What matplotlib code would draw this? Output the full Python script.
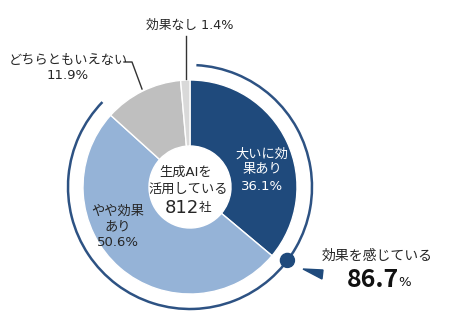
import matplotlib.pyplot as plt
from matplotlib.patches import Arc, Circle, Polygon
import numpy as np

plt.rcParams['font.family'] = ['DejaVu Sans', 'Noto Sans CJK JP']

# data
labels = ['大いに効\n果あり', 'やや効果\nあり', 'どちらともいえない', '効果なし']
values = [36.1, 50.6, 11.9, 1.4]
colors = ['#1f4a7c', '#95b3d7', '#bfbfbf', '#d9d9d9']
total_companies = 812
felt_effect = 86.7

W, H = 449, 332
fig = plt.figure(figsize=(W / 100, H / 100), dpi=100)
ax = fig.add_axes([0, 0, 1, 1])

cx, cy = 190, H - 187   # pie centre (pixel coords, y flipped)
r_out, r_in, r_ring = 107, 41, 122

ax.pie(values, colors=colors, startangle=90, counterclock=False,
       center=(cx, cy), radius=r_out,
       wedgeprops=dict(width=r_out - r_in, edgecolor='white', linewidth=1))

# outer ring over the "effective" share
end_ang = 90 - felt_effect / 100 * 360
ax.add_patch(Arc((cx, cy), 2 * r_ring, 2 * r_ring, theta1=end_ang + 360 - 2,
                 theta2=87, color='#2d5283', lw=1.8))
a = np.deg2rad(-37)
ax.add_patch(Circle((cx + r_ring * np.cos(a), cy + r_ring * np.sin(a)), 7,
                    color='#1f4a7c', zorder=5))
ax.add_patch(Polygon([(303, H - 269), (323, H - 270), (322, H - 279)],
                     color='#1f4a7c', zorder=5))

txt = '#262626'
# centre
ax.text(186, H - 172, '生成AIを', ha='center', va='center', fontsize=9.5, color=txt)
ax.text(188, H - 189, '活用している', ha='center', va='center', fontsize=9.5, color=txt)
ax.text(182, H - 208, str(total_companies), ha='center', va='center', fontsize=13, color=txt)
ax.text(205, H - 207, '社', ha='center', va='center', fontsize=9, color=txt)

# inner slice labels
ax.text(262, H - 170, f'{labels[0]}\n{values[0]}%', ha='center', va='center',
        fontsize=9.5, color='white', linespacing=1.3)
ax.text(118, H - 227, f'{labels[1]}\n{values[1]}%', ha='center', va='center',
        fontsize=9.5, color=txt, linespacing=1.3)

# outside labels
ax.text(68, H - 68, f'{labels[2]}\n{values[2]}%', ha='center', va='center',
        fontsize=9.5, color=txt, linespacing=1.2)
ax.plot([124, 132, 142], [H - 62, H - 62, H - 89], color='#333333', lw=1)
ax.text(190, H - 25, f'{labels[3]} {values[3]}%', ha='center', va='center',
        fontsize=9.2, color=txt)
ax.plot([186, 186], [H - 36, H - 79], color='#333333', lw=1)

# callout
ax.text(377, H - 256, '効果を感じている', ha='center', va='center', fontsize=10, color=txt)
ax.text(399, H - 280, f'{felt_effect}', ha='right', va='center', fontsize=18,
        fontweight='bold', color='#111111', family='Noto Sans CJK JP')
ax.text(398, H - 282, '%', ha='left', va='center', fontsize=9.5, color='#111111')

ax.set_xlim(0, W)
ax.set_ylim(0, H)
ax.set_aspect('auto')
ax.axis('off')
fig.savefig('out.png', dpi=100, facecolor='white')
